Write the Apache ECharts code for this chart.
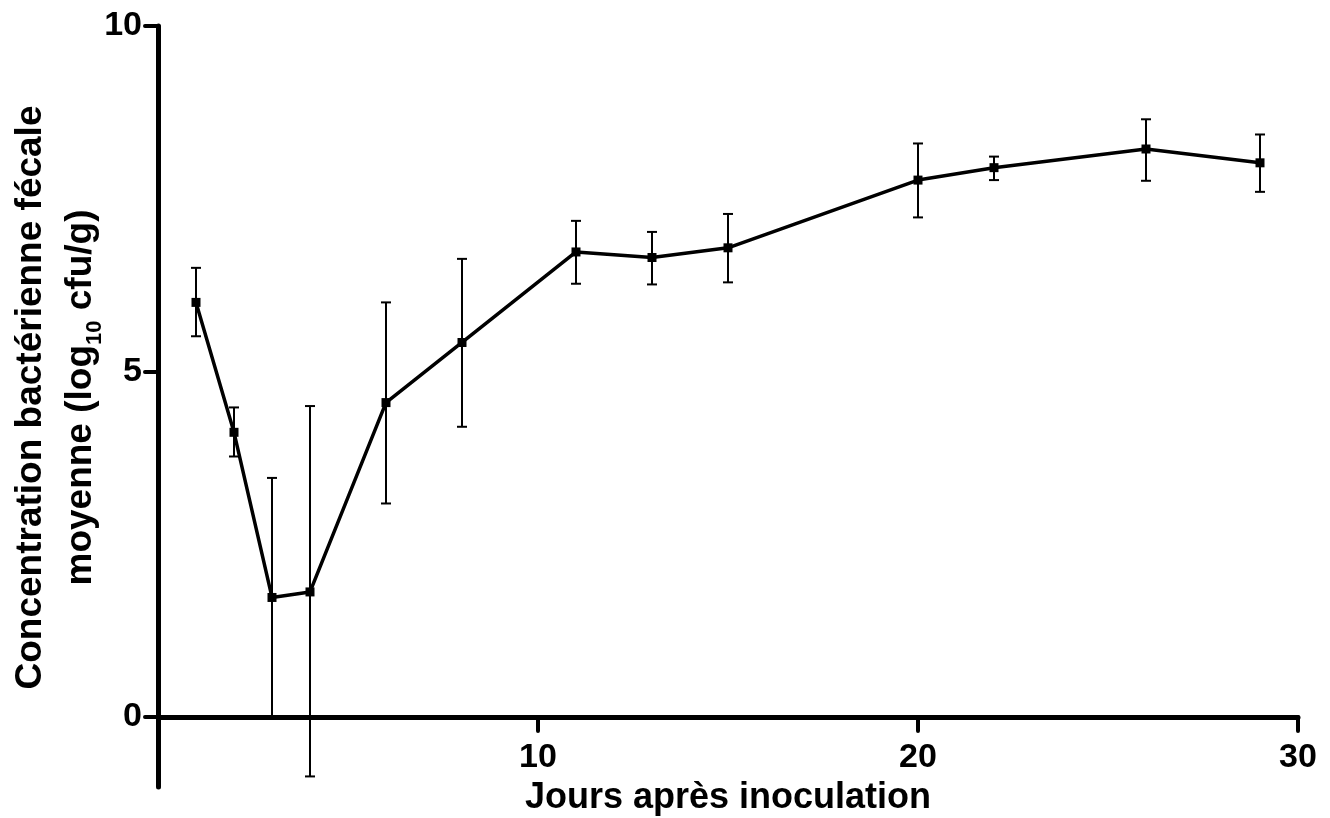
<!DOCTYPE html>
<html>
<head>
<meta charset="utf-8">
<script src="https://cdn.jsdelivr.net/npm/echarts@6/dist/echarts.min.js"></script>
<style>
html,body{margin:0;padding:0;background:#fff;}
#chart{width:1330px;height:818px;}
</style>
</head>
<body>
<div id="chart"></div>
<script>
// Data
var days   = [1, 2, 3, 4, 6, 8, 11, 13, 15, 20, 22, 26, 29];
var means  = [6.00, 4.12, 1.73, 1.81, 4.55, 5.42, 6.73, 6.65, 6.79, 7.77, 7.95, 8.22, 8.02];
var lower  = [5.51, 3.77, 0.00, -0.86, 3.09, 4.20, 6.27, 6.26, 6.29, 7.23, 7.77, 7.76, 7.60];
var upper  = [6.50, 4.48, 3.46, 4.50, 6.00, 6.63, 7.18, 7.02, 7.28, 8.30, 8.11, 8.65, 8.43];
var xTicks = [10, 20, 30];
var yTicks = [0, 5, 10];

var lineData = days.map(function (d, i) { return [d, means[i]]; });
var errData  = days.map(function (d, i) { return [d, lower[i], upper[i]]; });

var FONT = '"Liberation Sans", Arial, Helvetica, sans-serif';
var chart = echarts.init(document.getElementById('chart'), null, {renderer: 'canvas'});

chart.setOption({
  animation: false,
  backgroundColor: '#ffffff',
  grid: [
    {left: 158, right: 32, top: 26, bottom: 101, containLabel: false, outerBoundsMode: 'none'},
    {left: 158, right: 32, top: 717, bottom: 31, containLabel: false, outerBoundsMode: 'none'}
  ],
  xAxis: [
    {
      gridIndex: 0, type: 'value', min: 0, max: 30,
      name: 'Jours après inoculation',
      nameLocation: 'middle', nameGap: 63,
      nameTextStyle: {fontFamily: FONT, fontSize: 36, fontWeight: 'bold', color: '#000'},
      axisLine: {show: true, onZero: false, lineStyle: {color: '#000', width: 5, cap: 'round'}},
      axisTick: {show: true, customValues: xTicks, length: 14, lineStyle: {color: '#000', width: 4, cap: 'round'}},
      axisLabel: {show: true, customValues: xTicks, margin: 24, fontFamily: FONT, fontSize: 34, fontWeight: 'bold', color: '#000'},
      splitLine: {show: false}
    },
    {
      gridIndex: 1, type: 'value', min: 0, max: 30, show: false
    }
  ],
  yAxis: [
    {
      gridIndex: 0, type: 'value', min: 0, max: 10,
      name: 'Concentration bactérienne fécale\nmoyenne (log{sub|10} cfu/g)',
      nameLocation: 'middle', nameGap: 52, nameRotate: 90,
      nameMoveOverlap: false,
      nameTextStyle: {
        fontFamily: FONT, fontSize: 37, fontWeight: 'bold', color: '#000', lineHeight: 50, align: 'center',
        padding: [0, 52, 0, 0],
        rich: {
          sub: {fontFamily: FONT, fontSize: 22, fontWeight: 'bold', color: '#000', verticalAlign: 'bottom', lineHeight: 26}
        }
      },
      axisLine: {show: true, onZero: false, lineStyle: {color: '#000', width: 5, cap: 'round'}},
      axisTick: {show: true, customValues: yTicks, length: 13, lineStyle: {color: '#000', width: 4, cap: 'round'}},
      axisLabel: {show: true, customValues: yTicks, margin: 16, fontFamily: FONT, fontSize: 34, fontWeight: 'bold', color: '#000'},
      splitLine: {show: false}
    },
    {
      gridIndex: 1, type: 'value', min: -1, max: 0,
      axisLine: {show: true, onZero: false, lineStyle: {color: '#000', width: 5, cap: 'round'}},
      axisTick: {show: false},
      axisLabel: {show: false},
      splitLine: {show: false}
    }
  ],
  series: [
    {
      type: 'custom',
      xAxisIndex: 0, yAxisIndex: 0,
      data: errData,
      z: 3,
      clip: false,
      encode: {x: 0, y: [1, 2]},
      renderItem: function (params, api) {
        var x = api.value(0);
        var lo = api.coord([x, api.value(1)]);
        var hi = api.coord([x, api.value(2)]);
        var hw = 5;
        var st = {stroke: '#000', lineWidth: 2};
        return {
          type: 'group',
          children: [
            {type: 'line', shape: {x1: lo[0], y1: lo[1], x2: hi[0], y2: hi[1]}, style: st},
            {type: 'line', shape: {x1: hi[0] - hw, y1: hi[1], x2: hi[0] + hw, y2: hi[1]}, style: st},
            {type: 'line', shape: {x1: lo[0] - hw, y1: lo[1], x2: lo[0] + hw, y2: lo[1]}, style: st}
          ]
        };
      }
    },
    {
      type: 'line',
      xAxisIndex: 0, yAxisIndex: 0,
      data: lineData,
      z: 4,
      symbol: 'rect',
      symbolSize: 9,
      showAllSymbol: true,
      lineStyle: {color: '#000', width: 3.5},
      itemStyle: {color: '#000'}
    }
  ]
});
</script>
</body>
</html>
